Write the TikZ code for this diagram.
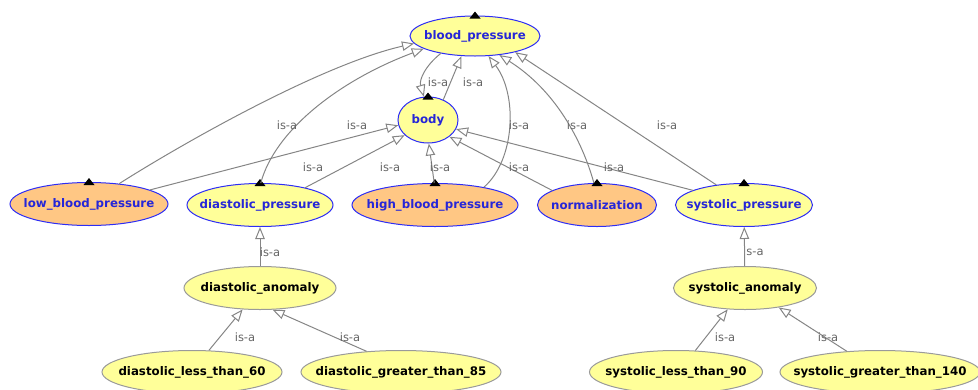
\documentclass[tikz,border=0pt]{standalone}
\usepackage{fontspec}
\setmainfont{DejaVu Sans}
\usepackage{tikz}
\usetikzlibrary{shapes, arrows.meta}
\definecolor{clsfill}{HTML}{FFFF99}
\definecolor{indfill}{HTML}{FFC784}
\definecolor{clsline}{HTML}{2D2DF5}
\definecolor{clstext}{HTML}{2626D8}
\definecolor{subline}{HTML}{9A9A9A}
\definecolor{isaline}{HTML}{858585}
\tikzstyle{cls}=[draw=clsline,fill=clsfill,ellipse,inner sep=0pt,line width=1pt,text=clstext,font=\bfseries\fontsize{11.8}{14}\selectfont,
  execute at begin node={\hbox to 0pt\bgroup\hss}, execute at end node={\hss\egroup}]
\tikzstyle{ind}=[cls,fill=indfill]
\tikzstyle{sub}=[cls,draw=subline,text=black]
\tikzstyle{isa}=[draw=isaline,line width=1pt,-{Triangle[open,length=12pt,width=9.5pt,line width=1pt]}]
\tikzstyle{lbl}=[text=black!60,inner sep=0pt,font=\fontsize{11.5}{13}\selectfont]
\newcommand{\marktop}[1]{\fill (#1.north) ++(-5.5,3) -- ++(11,0) -- ++(-5.5,-7) -- cycle;}

\begin{document}
\begin{tikzpicture}[x=1pt,y=-1pt]
  \useasboundingbox (0,0) rectangle (978,389);
  \node[cls, minimum width=130pt, minimum height=40pt] (bp) at (475,36) {blood\_pressure};
  \node[cls, minimum width=60pt, minimum height=46pt] (body) at (428,120) {body};
  \node[ind, minimum width=158pt, minimum height=43pt] (low) at (89,204) {low\_blood\_pressure};
  \node[cls, minimum width=146pt, minimum height=43pt] (diaP) at (260,205) {diastolic\_pressure};
  \node[ind, minimum width=166pt, minimum height=43pt] (high) at (435,205) {high\_blood\_pressure};
  \node[ind, minimum width=119pt, minimum height=43pt] (norm) at (597,205) {normalization};
  \node[cls, minimum width=137pt, minimum height=43pt] (sysP) at (744,205) {systolic\_pressure};
  \node[sub, minimum width=152pt, minimum height=43pt] (diaA) at (260,288) {diastolic\_anomaly};
  \node[sub, minimum width=143pt, minimum height=43pt] (sysA) at (745,288) {systolic\_anomaly};
  \node[sub, minimum width=180pt, minimum height=43pt] (dl) at (192,372) {diastolic\_less\_than\_60};
  \node[sub, minimum width=200pt, minimum height=43pt] (dg) at (401,372) {diastolic\_greater\_than\_85};
  \node[sub, minimum width=173pt, minimum height=43pt] (sl) at (676,372) {systolic\_less\_than\_90};
  \node[sub, minimum width=200pt, minimum height=43pt] (sg) at (880,372) {systolic\_greater\_than\_140};

  \foreach \n in {bp,body,low,diaP,high,norm,sysP} {\marktop{\n}}

  \draw[isa] (bp.207) .. controls (425,66) and (419,80) .. (body.100);
  \node[lbl] at (438,82) {is-a};
  \draw[isa] (body.53) -- (bp.236);
  \node[lbl] at (473,82) {is-a};
  \draw[isa] (low.34) .. controls (180,145) and (320,65) .. (bp.187);
  \node[lbl] at (357,125) {is-a};
  \draw[isa] (diaP.88) .. controls (275,130) and (340,80) .. (bp.194);
  \node[lbl] at (287,125) {is-a};
  \draw[isa] (high.20) .. controls (515,160) and (518,95) .. (bp.304);
  \node[lbl] at (519,125) {is-a};
  \draw[isa] (norm.98) .. controls (582,140) and (555,90) .. (bp.322);
  \node[lbl] at (577,125) {is-a};
  \draw[isa] (sysP.144) -- (bp.338);
  \node[lbl] at (667,125) {is-a};
  \draw[isa] (low.13) -- (body.190);
  \node[lbl] at (313,167) {is-a};
  \draw[isa] (diaP.21) -- (body.213);
  \node[lbl] at (390,167) {is-a};
  \draw[isa] (high.92) -- (body.272);
  \node[lbl] at (440,167) {is-a};
  \draw[isa] (norm.162) -- (body.322);
  \node[lbl] at (519,167) {is-a};
  \draw[isa] (sysP.164) -- (body.342);
  \node[lbl] at (614,167) {is-a};

  \draw[isa] (diaA) -- (diaP);
  \node[lbl] at (270,252) {is-a};
  \draw[isa] (dl.52) -- (diaA.231);
  \node[lbl] at (245,337) {is-a};
  \draw[isa] (dg.149) -- (diaA.300);
  \node[lbl] at (350,337) {is-a};
  \draw[isa] (sysA) -- (sysP);
  \node[lbl] at (755,252) {s-a};
  \draw[isa] (sl.48) -- (sysA.231);
  \node[lbl] at (725,337) {is-a};
  \draw[isa] (sg.148) -- (sysA.330);
  \node[lbl] at (828,337) {is-a};
\end{tikzpicture}
\end{document}
